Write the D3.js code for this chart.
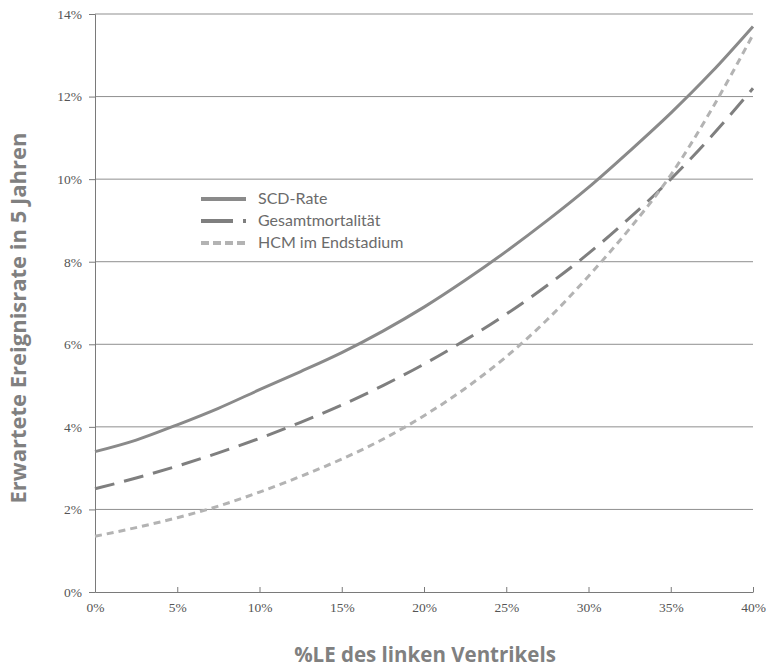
<!DOCTYPE html>
<html><head><meta charset="utf-8">
<script src="https://cdn.jsdelivr.net/npm/d3@7"></script>
<style>body{margin:0;background:#fff}svg{display:block}</style>
</head><body>
<svg id="c" width="770" height="670"></svg>
<script>
const xValues = [0,2.5,5,7.5,10,12.5,15,17.5,20,22.5,25,27.5,30,32.5,35,37.5,40];
const scdRate = [3.4,3.68,4.05,4.45,4.9,5.34,5.8,6.32,6.9,7.55,8.25,9.0,9.8,10.68,11.6,12.6,13.7];
const gesamtmortalitaet = [2.5,2.76,3.05,3.37,3.72,4.11,4.53,5.0,5.52,6.1,6.73,7.43,8.2,9.06,10.0,11.05,12.2];
const hcmEndstadium = [1.35,1.56,1.8,2.08,2.42,2.8,3.22,3.7,4.27,4.93,5.7,6.6,7.65,8.8,10.1,11.7,13.5];
const seriesNames = ["SCD-Rate","Gesamtmortalität","HCM im Endstadium"];
const xTicks = [0,5,10,15,20,25,30,35,40];
const yTicks = [0,2,4,6,8,10,12,14];
const xTitle = "%LE des linken Ventrikels";
const yTitle = "Erwartete Ereignisrate in 5 Jahren";

const svg = d3.select("#c");
const x = d3.scaleLinear().domain([0,40]).range([95,753]);
const y = d3.scaleLinear().domain([0,14]).range([592,14]);

// gridlines
svg.append("g").selectAll("line").data(yTicks.filter(d=>d>0)).join("line")
  .attr("x1",x(0)).attr("x2",x(40)).attr("y1",d=>y(d)).attr("y2",d=>y(d))
  .attr("stroke","#8f8f8f").attr("stroke-width",1);

const serif = "'Liberation Serif','Times New Roman',serif";
// y axis
const yAxis = svg.append("g").attr("transform",`translate(${x(0)},0)`)
  .call(d3.axisLeft(y).tickValues(yTicks).tickFormat(d=>d+"%").tickSize(6).tickPadding(7));
yAxis.attr("font-family",null).attr("font-size",null);
yAxis.select(".domain").attr("stroke","#7a7a7a");
yAxis.selectAll(".tick line").attr("stroke","#7a7a7a");
yAxis.selectAll("text").style("font-family",serif).style("font-size","13.5px").attr("fill","#555");

// x axis
const xAxis = svg.append("g").attr("transform",`translate(0,${y(0)})`)
  .call(d3.axisBottom(x).tickValues(xTicks).tickFormat(d=>d+"%").tickSizeInner(-5).tickSizeOuter(0).tickPadding(5));
xAxis.attr("font-family",null).attr("font-size",null);
xAxis.select(".domain").attr("stroke","#7a7a7a");
xAxis.selectAll(".tick line").attr("stroke","#7a7a7a");
xAxis.selectAll("text").style("font-family",serif).style("font-size","13.5px").attr("fill","#555").attr("dy","1.1em");

const styles = [
  {color:"#8a8a8a", dash:null, w:3},
  {color:"#7f7f7f", dash:"20,10", w:3},
  {color:"#b3b3b3", dash:"7,5", w:3}
];
const allSeries = [scdRate, gesamtmortalitaet, hcmEndstadium];
const line = d3.line().x((d,i)=>x(xValues[i])).y(d=>y(d)).curve(d3.curveMonotoneX);

svg.append("g").selectAll("path").data(allSeries).join("path")
  .attr("d",d=>line(d)).attr("fill","none")
  .attr("stroke",(d,i)=>styles[i].color).attr("stroke-width",(d,i)=>styles[i].w)
  .attr("stroke-dasharray",(d,i)=>styles[i].dash);

// legend
const leg = svg.append("g");
seriesNames.forEach((n,i)=>{
  const yy = 199 + i*22;
  leg.append("line").attr("x1",201).attr("x2",246).attr("y1",yy).attr("y2",yy)
    .attr("stroke",styles[i].color).attr("stroke-width",4)
    .attr("stroke-dasharray", i===1 ? "32,10" : (i===2 ? "8,4" : null));
  leg.append("text").attr("x",258).attr("y",yy+5).text(n)
    .style("font-family","Lato, 'Open Sans', sans-serif").style("font-size","16px").attr("fill","#6b6b6b");
});

// titles
svg.append("text").attr("x",425).attr("y",662).attr("text-anchor","middle").text(xTitle)
  .style("font-family","'Open Sans', sans-serif").style("font-weight","bold").style("font-size","20.5px").attr("fill","#808080");
svg.append("text").attr("transform","translate(26,318) rotate(-90)").attr("text-anchor","middle").text(yTitle)
  .style("font-family","'Open Sans', sans-serif").style("font-weight","bold").style("font-size","22px").attr("fill","#808080");
</script>
</body></html>
